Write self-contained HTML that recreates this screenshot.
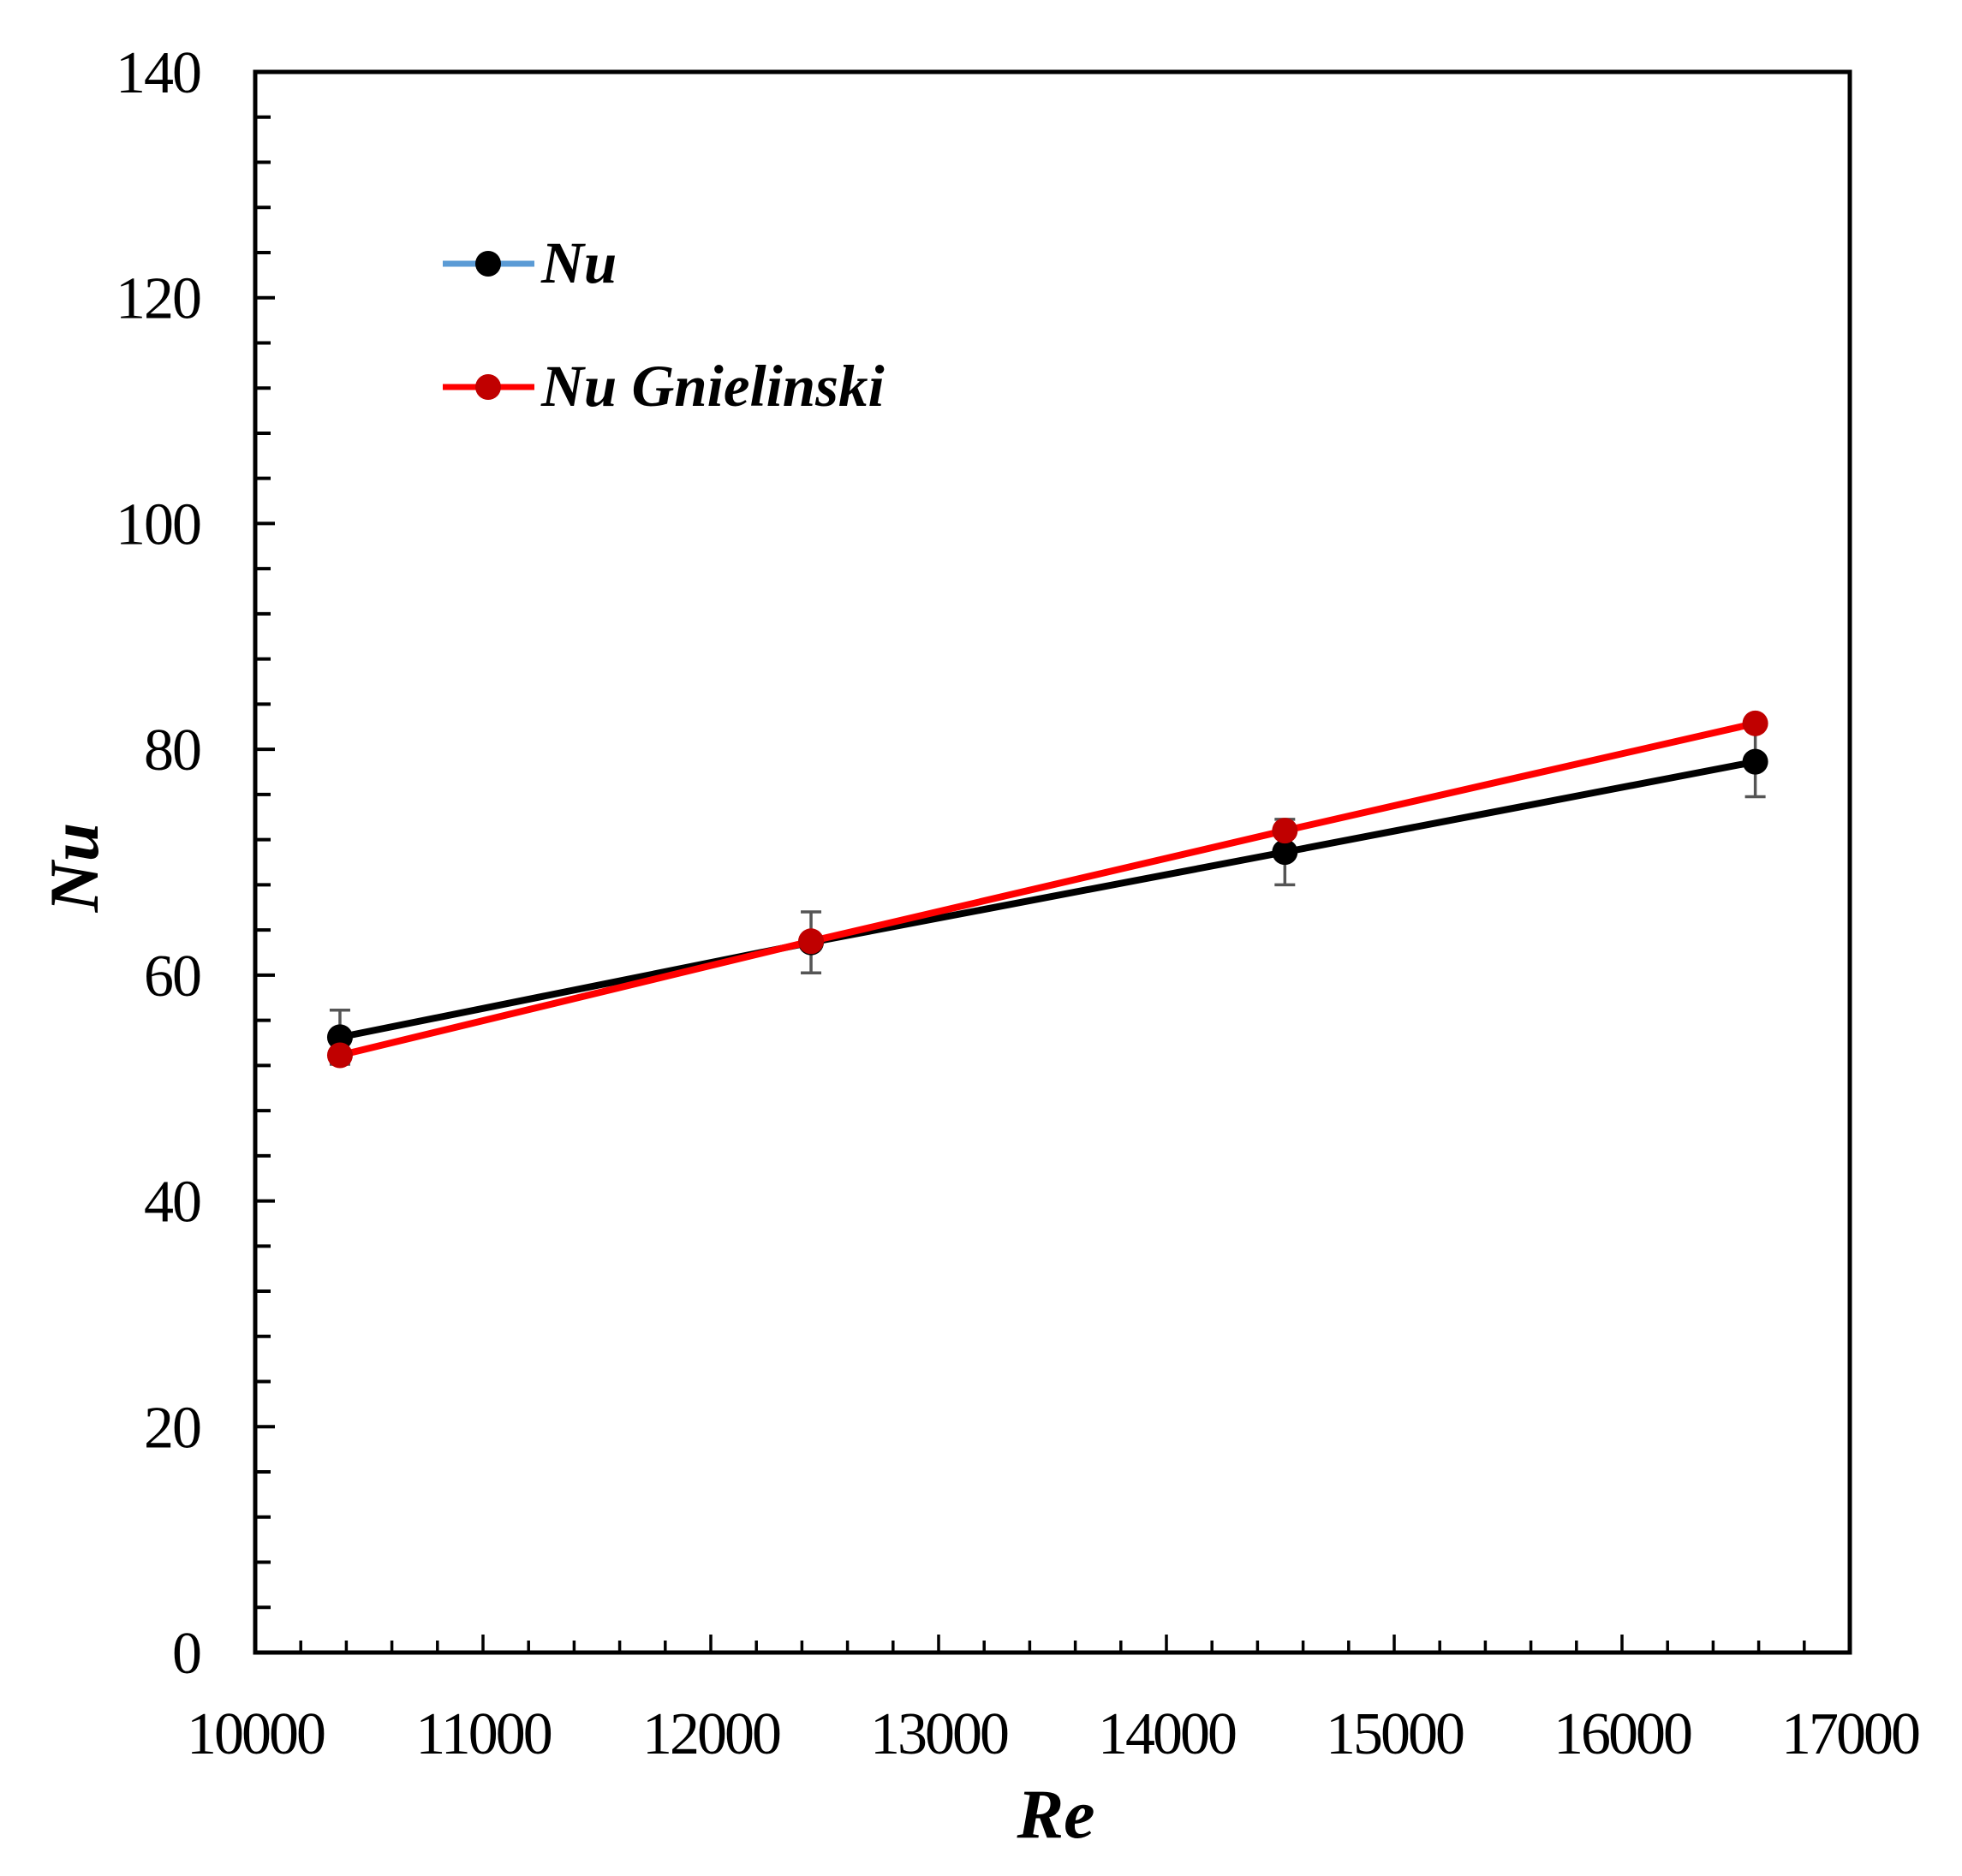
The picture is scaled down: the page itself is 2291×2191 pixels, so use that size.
<!DOCTYPE html>
<html><head><meta charset="utf-8"><style>
html,body{margin:0;padding:0;background:#fff;}
svg{display:block;}
</style></head><body>
<svg id="chart" width="2291" height="2191" viewBox="0 0 2291 2191" xmlns="http://www.w3.org/2000/svg" font-family="'Liberation Serif', serif"></svg>
<script>
const reValues = [10372, 12440, 14520, 16585];
const nuValues = [54.5, 62.9, 70.9, 78.9];
const nuErrors = [2.4, 2.7, 2.9, 3.1];
const gnielinskiValues = [52.9, 63.0, 72.8, 82.3];
const xTickLabels = [10000, 11000, 12000, 13000, 14000, 15000, 16000, 17000];
const yTickLabels = [0, 20, 40, 60, 80, 100, 120, 140];

const L = 298, R = 2160, T = 84, B = 1930;
const xMin = 10000, xMax = 17000, yMin = 0, yMax = 140;
function xs(v){ return L + (v - xMin) / (xMax - xMin) * (R - L); }
function ys(v){ return B - (v - yMin) / (yMax - yMin) * (B - T); }

const svg = document.getElementById('chart');
const NS = 'http://www.w3.org/2000/svg';
function mk(tag, attrs, parent){
  const e = document.createElementNS(NS, tag);
  for (const k in attrs) e.setAttribute(k, attrs[k]);
  (parent || svg).appendChild(e);
  return e;
}

const yTicks = mk('g', {});


for (let v = yMin + 4; v < yMax; v += 4) {
  const major = v % 20 === 0;
  mk('line', {x1: L, x2: L + (major ? 23 : 18), y1: ys(v), y2: ys(v), stroke: '#000', 'stroke-width': 4}, yTicks);
}
const xTicks = mk('g', {});


for (let v = xMin + 200; v < xMax; v += 200) {
  const major = v % 1000 === 0;
  mk('line', {x1: xs(v), x2: xs(v), y1: B, y2: B - (major ? 21 : 14), stroke: '#000', 'stroke-width': 3.5}, xTicks);
}
const frame = mk('rect', {x: L, y: T, width: R - L, height: B - T, fill: 'none', stroke: '#000', 'stroke-width': 5});



yTickLabels.forEach(v => {
  const t = mk('text', {x: 234, y: ys(v) + 24, 'text-anchor': 'end', 'font-size': 70, fill: '#000', 'letter-spacing': -2});
  t.textContent = v;
  
  
});
xTickLabels.forEach(v => {
  const t = mk('text', {x: xs(v), y: 2048, 'text-anchor': 'middle', 'font-size': 70, fill: '#000', 'letter-spacing': -3});
  t.textContent = v;
  
  
});
const xt = mk('text', {x: 1233, y: 2146, 'text-anchor': 'middle', 'font-size': 82, 'font-style': 'italic', 'font-weight': 'bold', fill: '#000'});
xt.textContent = 'Re';


const yt = mk('text', {x: 0, y: 0, 'text-anchor': 'middle', 'font-size': 82, 'font-style': 'italic', 'font-weight': 'bold', fill: '#000', transform: 'translate(114,1013) rotate(-90)'});
yt.textContent = 'Nu';



const eb = mk('g', {});


reValues.forEach((r, i) => {
  const x = xs(r), y1 = ys(nuValues[i] + nuErrors[i]), y2 = ys(nuValues[i] - nuErrors[i]);
  mk('line', {x1: x, x2: x, y1: y1, y2: y2, stroke: '#555', 'stroke-width': 3.5}, eb);
  mk('line', {x1: x - 12, x2: x + 12, y1: y1, y2: y1, stroke: '#555', 'stroke-width': 3.5}, eb);
  mk('line', {x1: x - 12, x2: x + 12, y1: y2, y2: y2, stroke: '#555', 'stroke-width': 3.5}, eb);
});

function series(vals, lineColor, markColor, name){
  const g = mk('g', {});
  
  
  const pts = reValues.map((r, i) => xs(r) + ',' + ys(vals[i])).join(' ');
  mk('polyline', {points: pts, fill: 'none', stroke: lineColor, 'stroke-width': 8}, g);
  reValues.forEach((r, i) => {
    const c = mk('circle', {cx: xs(r), cy: ys(vals[i]), r: 15, fill: markColor}, g);
    
    
  });
}
series(nuValues, '#000', '#000', 'nu-series');
series(gnielinskiValues, '#ff0000', '#c00000', 'nu-gnielinski-series');

const lg = mk('g', {});


const e1 = mk('g', {}, lg);


mk('line', {x1: 517, x2: 624, y1: 308, y2: 308, stroke: '#5b9bd5', 'stroke-width': 7}, e1);
mk('circle', {cx: 570, cy: 308, r: 15, fill: '#000'}, e1);
const l1 = mk('text', {x: 632, y: 330, 'font-size': 69, 'font-style': 'italic', 'font-weight': 'bold', fill: '#000'}, e1);
l1.textContent = 'Nu';
const e2 = mk('g', {}, lg);


mk('line', {x1: 517, x2: 624, y1: 452, y2: 452, stroke: '#ff0000', 'stroke-width': 7}, e2);
mk('circle', {cx: 570, cy: 452, r: 15, fill: '#c00000'}, e2);
const l2 = mk('text', {x: 632, y: 474, 'font-size': 69, 'font-style': 'italic', 'font-weight': 'bold', fill: '#000'}, e2);
l2.textContent = 'Nu Gnielinski';
</script>
</body></html>
